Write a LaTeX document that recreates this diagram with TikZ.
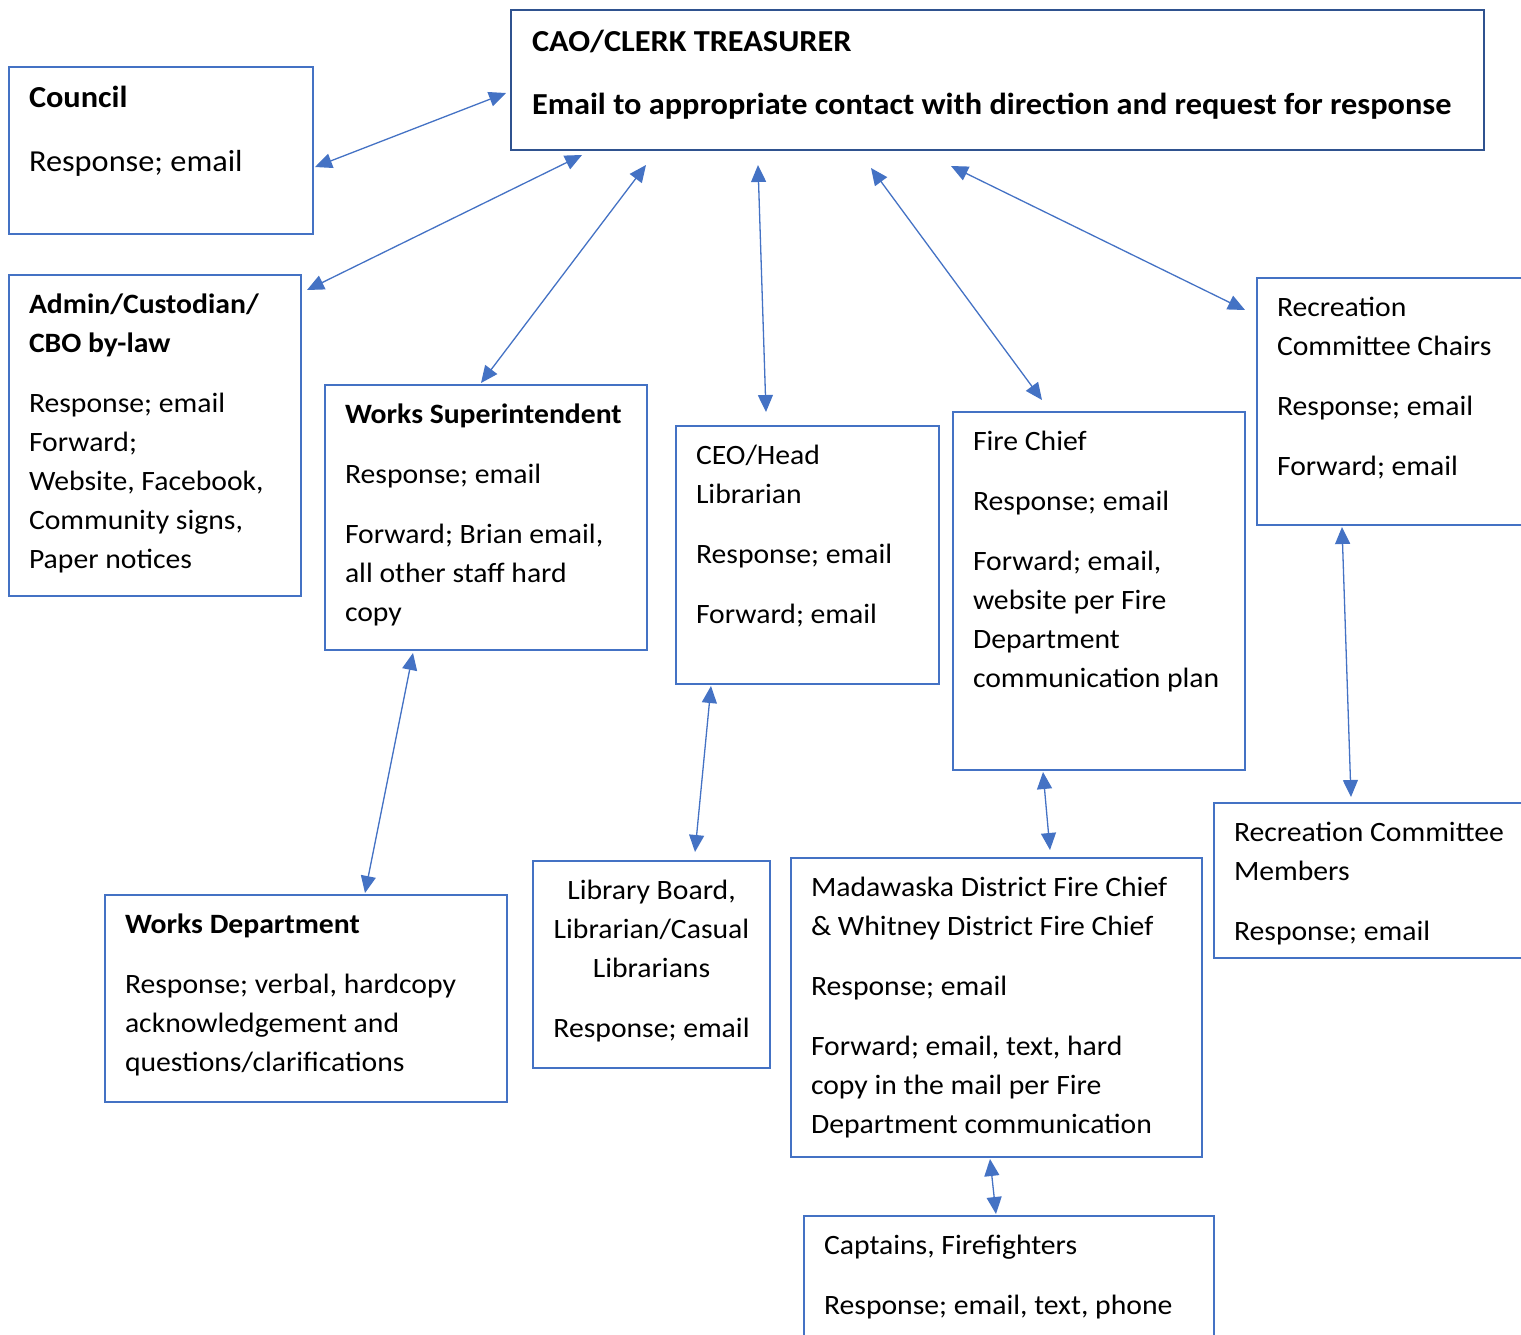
\documentclass[tikz,border=0pt]{standalone}
\usepackage{fontspec}
\setmainfont{Carlito}[FakeStretch=1.06]
\usepackage{tikz}
\usetikzlibrary{arrows.meta}
\definecolor{boxblue}{HTML}{4472C4}
\definecolor{headblue}{HTML}{2F528F}
\def\cell#1#2#3{\parbox[t][#2pt][t]{#1pt}{\raggedright\rule{0pt}{38pt}#3}}
\tikzset{
	unit/.style={draw=boxblue, line width=1.4pt, rectangle, inner xsep=20pt, inner ysep=0pt, outer sep=0pt, anchor=north west, font=\fontsize{28}{39}\selectfont},
	bigunit/.style={unit, font=\fontsize{30.5}{42.5}\selectfont},
	head/.style={bigunit, draw=headblue, line width=2.6pt, inner xsep=21pt},
	link/.style={draw=boxblue, line width=1.3pt, {Triangle[length=17pt,width=15pt]}-{Triangle[length=17pt,width=15pt]}}
}

\begin{document}
\begin{tikzpicture}[x=1pt, y=-1pt]
			%%%%% START %%%%%
			\clip (0,0) rectangle (1521,1334);
			
			\node[head] (cao) at (511,10) {\cell{931}{140}{\rule{0pt}{41pt}\textbf{CAO/CLERK TREASURER}\\[21pt]\textbf{Email to appropriate contact with direction and request for response}}};
			
			\node[bigunit] (council) at (9,67) {\cell{264}{167}{\rule{0pt}{40pt}\textbf{Council}\\[22pt]Response; email}};
			\node[unit] (admin) at (9,275) {\cell{252}{321}{\textbf{Admin/Custodian/}\\\textbf{CBO by-law}\\[21pt]Response; email\\Forward;\\Website, Facebook,\\Community signs,\\Paper notices}};
			\node[unit] (wsup) at (325,385) {\cell{282}{265}{\textbf{Works Superintendent}\\[21pt]Response; email\\[21pt]Forward; Brian email,\\all other staff hard\\copy}};
			\node[unit] (ceo) at (676,426) {\cell{223}{258}{CEO/Head\\Librarian\\[21pt]Response; email\\[21pt]Forward; email}};
			\node[unit] (fire) at (953,412) {\cell{252}{358}{Fire Chief\\[21pt]Response; email\\[21pt]Forward; email,\\website per Fire\\Department\\communication plan}};
			\node[unit] (recc) at (1257,278) {\cell{283}{247}{Recreation\\Committee Chairs\\[21pt]Response; email\\[21pt]Forward; email}};
			
			\node[unit] (wdep) at (105,895) {\cell{362}{207}{\textbf{Works Department}\\[21pt]Response; verbal, hardcopy\\acknowledgement and\\questions/clarifications}};
			\node[unit] (lib) at (533,861) {\cell{197}{207}{\centering Library Board,\\Librarian/Casual\\Librarians\\[21pt]Response; email}};
			\node[unit] (mad) at (791,858) {\cell{371}{299}{Madawaska District Fire Chief\\\& Whitney District Fire Chief\\[21pt]Response; email\\[21pt]Forward; email, text, hard\\copy in the mail per Fire\\Department communication}};
			\node[unit] (recm) at (1214,803) {\cell{306}{155}{Recreation Committee\\Members\\[21pt]Response; email}};
			\node[unit] (capt) at (804,1216) {\cell{370}{150}{Captains, Firefighters\\[21pt]Response; email, text, phone}};
			
			% links to the CAO
			\draw[link] ([shift={(2,16.5)}]council.east) -- ([shift={(-5,13)}]cao.west);
			\draw[link] ([shift={(6,15)}]admin.north east) -- ([shift={(71,5)}]cao.south west);
			\draw[link] ([shift={(-5,-2)}]wsup.north) -- ([shift={(135,15)}]cao.south west);
			\draw[link] ([shift={(-41.5,-14)}]ceo.north) -- ([shift={(247,15)}]cao.south west);
			\draw[link] ([shift={(-57,-12)}]fire.north) -- ([shift={(360,18)}]cao.south west);
			\draw[link] ([shift={(-12,32)}]recc.north west) -- ([shift={(440,16)}]cao.south west);
			
			% links further down
			\draw[link] ([shift={(-73,3)}]wsup.south) -- ([shift={(59,-2)}]wdep.north);
			\draw[link] ([shift={(-96.5,2)}]ceo.south) -- ([shift={(43.5,-9)}]lib.north);
			\draw[link] ([shift={(-56,2)}]fire.south) -- ([shift={(53.5,-8)}]mad.north);
			\draw[link] ([shift={(85,2)}]recc.south west) -- ([shift={(137,-6)}]recm.north west);
			\draw[link] ([shift={(-6.5,2)}]mad.south) -- ([shift={(-13,-2)}]capt.north);
			
			%%%%% END %%%%%
\end{tikzpicture}
\end{document}
